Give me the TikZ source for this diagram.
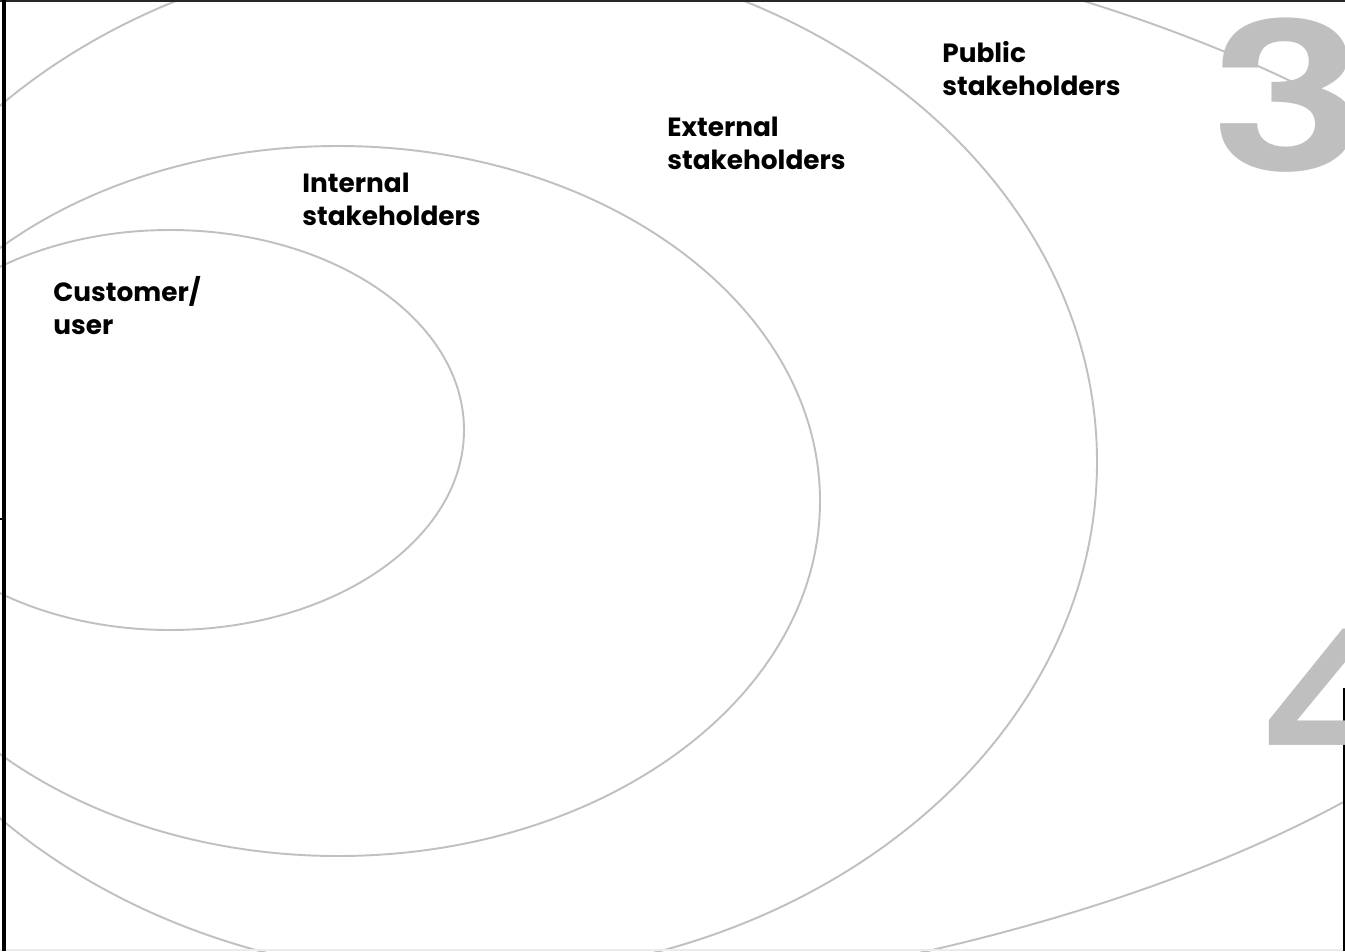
\documentclass[tikz,border=0pt]{standalone}
\usepackage{fontspec}
\setmainfont{Poppins}
\newfontfamily\digitfont{TeX Gyre Heros}
\usepackage{xcolor}
\definecolor{RingGray}{HTML}{C0C0C0}
\definecolor{DigitGray}{HTML}{BFBFBF}

\begin{document}
\begin{tikzpicture}[x=0.02cm, y=-0.02cm,
    ring/.style={draw=RingGray, line width=1.1pt},
    lbl/.style={anchor=base west, inner sep=0, font=\fontsize{15}{19}\selectfont\bfseries},
    digit/.style={anchor=base west, inner sep=0, text=DigitGray,
      font=\digitfont\fontsize{120}{120}\selectfont\bfseries}]
  \useasboundingbox (0,0) rectangle (1345,951);

  % stakeholder rings
  \draw[ring] (170,430) ellipse [x radius=294, y radius=200];
  \draw[ring] (338,501) ellipse [x radius=482, y radius=355];
  \draw[ring] (460,462) ellipse [x radius=637, y radius=515];
  \draw[ring] (300,455) ellipse [x radius=1325, y radius=563];

  % page edges
  \draw[black!8, line width=0.6pt] (0,950) -- (1345,950);
  \draw[black!85, line width=1.7pt] (0,1) -- (1345,1);
  \draw[black, line width=2.3pt] (4,0) -- (4,951);
  \draw[black, line width=1pt] (0,519) -- (4,519);
  \draw[black, line width=2.3pt] (1345,688) -- (1345,951);

  \node (three) [digit] at (1212,170) {\scalebox{1.3}[1]{3}};
  \node (four) [digit] at (1262,778) {\scalebox{1.35}[1]{4}};

  \node (cust) [lbl] at (53,301) {
    \begin{tabular}[t]{@{}l@{}}
      Customer/ \\
      user
    \end{tabular}
  };
  \node (int) [lbl] at (302,192) {
    \begin{tabular}[t]{@{}l@{}}
      Internal \\
      stakeholders
    \end{tabular}
  };
  \node (ext) [lbl] at (667,136) {
    \begin{tabular}[t]{@{}l@{}}
      External \\
      stakeholders
    \end{tabular}
  };
  \node (pub) [lbl] at (942,62) {
    \begin{tabular}[t]{@{}l@{}}
      Public \\
      stakeholders
    \end{tabular}
  };
\end{tikzpicture}
\end{document}
